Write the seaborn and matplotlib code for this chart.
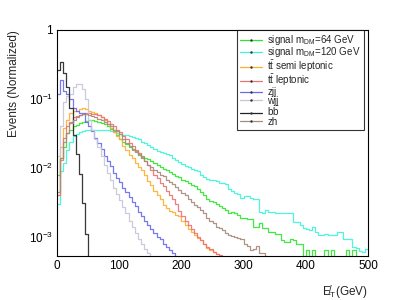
import numpy as np
import pandas as pd
import matplotlib
matplotlib.use("Agg")
import matplotlib.pyplot as plt
from matplotlib.lines import Line2D
from matplotlib.ticker import MultipleLocator, LogLocator, NullFormatter
import seaborn as sns

# MET histograms, 5 GeV bins starting at 0 (normalized per sample)
bin_edges = list(range(0, 505, 5))

signal_64 = [0.008, 0.014, 0.020, 0.032, 0.035, 0.040, 0.042, 0.045, 0.047, 0.048,
             0.050, 0.050, 0.048, 0.047, 0.045, 0.043, 0.040, 0.037, 0.034, 0.030,
             0.026, 0.024, 0.022, 0.020, 0.019, 0.0175, 0.016, 0.015, 0.014, 0.0135,
             0.0125, 0.0118, 0.011, 0.0104, 0.0098, 0.0092, 0.0087, 0.0082, 0.0077, 0.0073,
             0.0068, 0.0064, 0.0060, 0.0057, 0.0054, 0.0050, 0.0045, 0.0040, 0.0036, 0.0033,
             0.0032, 0.0030, 0.0028, 0.0026, 0.0025, 0.0022, 0.0023, 0.0022, 0.0021, 0.0019,
             0.0019, 0.0018, 0.0018, 0.0014, 0.0014, 0.0016, 0.00135, 0.00135, 0.0012, 0.0012,
             0.0011, 0.0011, 0.0009, 0.00085, 0.00085, 0.00095, 0.0009, 0.0008, 0.0008, 0.0,
             0.00065, 0.0, 0.00065, 0.0, 0.0, 0.0, 0.00065, 0.0, 0.00065, 0.0,
             0.0, 0.0, 0.0, 0.00065, 0.0, 0.00065, 0.0, 0.0, 0.0, 0.0]

signal_120 = [0.003, 0.009, 0.012, 0.018, 0.024, 0.029, 0.031, 0.033, 0.034, 0.035,
              0.036, 0.036, 0.036, 0.036, 0.036, 0.0355, 0.035, 0.034, 0.033, 0.032,
              0.031, 0.030, 0.030, 0.029, 0.028, 0.027, 0.026, 0.024, 0.023, 0.0215,
              0.020, 0.019, 0.0178, 0.0172, 0.0165, 0.0158, 0.0152, 0.0140, 0.0130, 0.0124,
              0.0115, 0.0108, 0.0105, 0.0098, 0.0093, 0.0090, 0.0078, 0.0074, 0.0070, 0.0068,
              0.0066, 0.0065, 0.0060, 0.0060, 0.0058, 0.0050, 0.0046, 0.0043, 0.0042, 0.0037,
              0.0039, 0.0039, 0.0037, 0.0036, 0.0035, 0.0023, 0.0022, 0.0025, 0.0023, 0.0023,
              0.0022, 0.0022, 0.0022, 0.0022, 0.0022, 0.0022, 0.00165, 0.00165, 0.0015, 0.00135,
              0.0013, 0.00125, 0.0014, 0.0012, 0.00107, 0.00107, 0.0011, 0.00107, 0.00107, 0.00107,
              0.0012, 0.0012, 0.00095, 0.00095, 0.00095, 0.00072, 0.0007, 0.00062, 0.0006, 0.00068]

tt_semi = [0.004, 0.020, 0.038, 0.050, 0.063, 0.066, 0.068, 0.072, 0.074, 0.072,
           0.068, 0.065, 0.062, 0.059, 0.055, 0.050, 0.044, 0.038, 0.033, 0.029,
           0.026, 0.021, 0.018, 0.0155, 0.014, 0.012, 0.0105, 0.0092, 0.0078, 0.0065,
           0.0056, 0.0047, 0.0041, 0.0036, 0.0029, 0.0026, 0.0024, 0.0023, 0.0021, 0.0020,
           0.0017, 0.0015, 0.0013, 0.0012, 0.00108, 0.00098, 0.0009, 0.0008, 0.0007, 0.00065,
           0.0006, 0.00057]

tt_lep = [0.004, 0.013, 0.027, 0.040, 0.047, 0.054, 0.057, 0.059, 0.061, 0.063,
          0.062, 0.061, 0.060, 0.058, 0.055, 0.052, 0.048, 0.044, 0.040, 0.036,
          0.033, 0.029, 0.026, 0.023, 0.021, 0.0185, 0.0166, 0.0145, 0.0128, 0.011,
          0.0093, 0.0079, 0.0071, 0.0061, 0.0054, 0.0047, 0.0041, 0.0036, 0.0030, 0.0024,
          0.0020, 0.0017, 0.0015, 0.0013, 0.00115, 0.0010, 0.0009, 0.0008, 0.00072, 0.00066,
          0.0006, 0.00056, 0.00055]

zjj = [0.12, 0.19, 0.13, 0.12, 0.10, 0.075, 0.066, 0.063, 0.062, 0.047,
       0.040, 0.034, 0.027, 0.023, 0.019, 0.0148, 0.0126, 0.0107, 0.0085, 0.0072,
       0.0062, 0.0052, 0.0045, 0.0038, 0.0032, 0.0028, 0.0023, 0.0020, 0.0017, 0.0015,
       0.0013, 0.00115, 0.0010, 0.00092, 0.0008, 0.00072, 0.00064, 0.00058]

wjj = [0.015, 0.040, 0.090, 0.11, 0.12, 0.15, 0.165, 0.165, 0.14, 0.10,
       0.050, 0.035, 0.026, 0.020, 0.015, 0.011, 0.0085, 0.0068, 0.0052, 0.0042,
       0.0034, 0.0027, 0.0022, 0.0017, 0.0014, 0.00115, 0.00095, 0.0008, 0.00068, 0.00058]

bb = [0.26, 0.34, 0.24, 0.15, 0.075, 0.030, 0.016, 0.0083, 0.0031, 0.0011]

zh = [0.0045, 0.014, 0.024, 0.032, 0.045, 0.050, 0.055, 0.058, 0.060, 0.060,
      0.058, 0.056, 0.054, 0.052, 0.050, 0.047, 0.043, 0.040, 0.036, 0.034,
      0.031, 0.026, 0.023, 0.0205, 0.0185, 0.0168, 0.0155, 0.014, 0.0125, 0.0112,
      0.0103, 0.0094, 0.0088, 0.0080, 0.0076, 0.0068, 0.0063, 0.0058, 0.0053, 0.0048,
      0.0044, 0.0040, 0.0036, 0.0032, 0.0029, 0.0027, 0.0025, 0.0022, 0.0019, 0.0017,
      0.0016, 0.0014, 0.00135, 0.00126, 0.00115, 0.00107, 0.00105, 0.0010, 0.00097, 0.00093,
      0.00078, 0.00074, 0.00065, 0.00068, 0.00075, 0.00059, 0.00059]

samples = ["signal_64", "signal_120", "tt_semi", "tt_lep", "zjj", "wjj", "bb", "zh"]
values = [signal_64, signal_120, tt_semi, tt_lep, zjj, wjj, bb, zh]
labels = [r"signal m$_{\rm DM}$=64 GeV", r"signal m$_{\rm DM}$=120 GeV",
          r"t$\bar{\rm t}$ semi leptonic", r"t$\bar{\rm t}$ leptonic",
          "zjj", "wjj", r"b$\bar{\rm b}$", "zh"]
colors = ["#2ee62e", "#3cf5d8", "#ffae2e", "#ec7272", "#6a6aee", "#c6c6da", "#222222", "#a88a7a"]


def build_frame():
    centers = [(a + b) / 2 for a, b in zip(bin_edges[:-1], bin_edges[1:])]
    rows = []
    for name, vals in zip(samples, values):
        for c, v in zip(centers, vals):
            rows.append({"met": c, "weight": v, "sample": name})
    return pd.DataFrame(rows)


def main():
    sns.set_style("white")
    plt.rcParams["font.family"] = ["Liberation Sans", "DejaVu Sans"]
    plt.rcParams["mathtext.fontset"] = "custom"
    plt.rcParams["mathtext.rm"] = "Liberation Sans"

    df = build_frame()

    fig = plt.figure(figsize=(4.09, 3.0), dpi=100)
    ax = fig.add_axes([57 / 409, 44 / 300, 311 / 409, 226 / 300])

    for name, color in zip(samples, colors):
        sub = df[df["sample"] == name]
        sns.histplot(data=sub, x="met", weights="weight", bins=bin_edges,
                     element="step", fill=False, color=color, linewidth=0.9,
                     alpha=0.9, ax=ax)

    ax.set_yscale("log")
    ax.set_xlim(0, 500)
    ax.set_ylim(5.3e-4, 1)

    ax.set_yticks([1e-3, 1e-2, 1e-1, 1])
    ax.set_yticklabels([r"10$^{-3}$", r"10$^{-2}$", r"10$^{-1}$", "1"])
    ax.yaxis.set_minor_locator(LogLocator(base=10, subs=np.arange(2, 10)))
    ax.yaxis.set_minor_formatter(NullFormatter())
    ax.set_xticks([0, 100, 200, 300, 400, 500])
    ax.xaxis.set_minor_locator(MultipleLocator(20))

    ax.tick_params(which="both", direction="in", top=False, right=False,
                   labelsize=8.5, width=0.6, colors="black", pad=3)
    ax.tick_params(which="major", length=8)
    ax.tick_params(which="minor", length=4)

    for sp in ax.spines.values():
        sp.set_visible(True)
        sp.set_color("black")
        sp.set_linewidth(0.8)

    ax.set_ylabel("Events (Normalized)", fontsize=8.5, loc="top", labelpad=6)
    ax.set_xlabel("E\u0338$_{\\rm T}$(GeV)", fontsize=8.5, loc="right", labelpad=8)

    handles = [Line2D([0], [0], color=c, lw=0.9, marker=".", markersize=1.5,
                      markerfacecolor="#333333", markeredgecolor="#333333")
               for c in colors]
    leg = ax.legend(handles, labels, loc="upper left",
                    bbox_to_anchor=((237 - 57) / 311, 1.0),
                    fontsize=7, frameon=True, fancybox=False, borderpad=0.3,
                    labelspacing=-0.15, handlelength=2.3, handletextpad=0.5,
                    borderaxespad=0.0)
    leg.get_frame().set_edgecolor("black")
    leg.get_frame().set_linewidth(0.8)

    fig.savefig("out.png", dpi=100)


if __name__ == "__main__":
    main()
